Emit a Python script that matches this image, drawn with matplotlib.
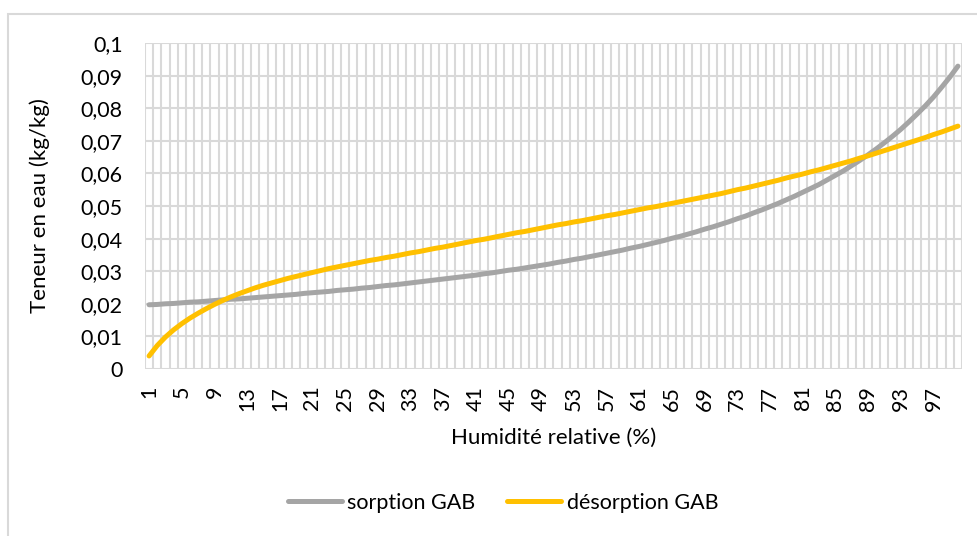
import matplotlib
matplotlib.use('Agg')
from matplotlib import pyplot as plt
from matplotlib.patches import Rectangle

# relative humidity categories, 1..100 %
humidity = list(range(1, 101))

sorption_gab = [
    0.0197, 0.0198, 0.0200, 0.0201, 0.0203, 0.0205, 0.0206, 0.0208, 0.0210, 0.0212,
    0.0214, 0.0215, 0.0217, 0.0219, 0.0221, 0.0223, 0.0225, 0.0227, 0.0229, 0.0232,
    0.0234, 0.0236, 0.0238, 0.0241, 0.0243, 0.0245, 0.0248, 0.0250, 0.0253, 0.0256,
    0.0258, 0.0261, 0.0264, 0.0267, 0.0270, 0.0273, 0.0276, 0.0279, 0.0282, 0.0285,
    0.0288, 0.0292, 0.0295, 0.0299, 0.0303, 0.0306, 0.0310, 0.0314, 0.0318, 0.0322,
    0.0327, 0.0331, 0.0336, 0.0340, 0.0345, 0.0350, 0.0355, 0.0360, 0.0365, 0.0371,
    0.0376, 0.0382, 0.0388, 0.0394, 0.0401, 0.0407, 0.0414, 0.0421, 0.0429, 0.0436,
    0.0444, 0.0452, 0.0461, 0.0469, 0.0479, 0.0488, 0.0498, 0.0508, 0.0519, 0.0530,
    0.0542, 0.0554, 0.0566, 0.0580, 0.0594, 0.0608, 0.0624, 0.0640, 0.0657, 0.0675,
    0.0694, 0.0714, 0.0735, 0.0758, 0.0782, 0.0807, 0.0834, 0.0864, 0.0895, 0.0929,
]

desorption_gab = [
    0.0040, 0.0072, 0.0098, 0.0120, 0.0139, 0.0156, 0.0171, 0.0185, 0.0198, 0.0210,
    0.0221, 0.0231, 0.0240, 0.0249, 0.0257, 0.0264, 0.0271, 0.0278, 0.0284, 0.0290,
    0.0296, 0.0302, 0.0308, 0.0313, 0.0318, 0.0323, 0.0328, 0.0333, 0.0337, 0.0342,
    0.0346, 0.0351, 0.0356, 0.0360, 0.0365, 0.0370, 0.0374, 0.0379, 0.0384, 0.0389,
    0.0394, 0.0398, 0.0403, 0.0408, 0.0413, 0.0418, 0.0422, 0.0427, 0.0432, 0.0437,
    0.0442, 0.0446, 0.0451, 0.0455, 0.0460, 0.0465, 0.0470, 0.0474, 0.0479, 0.0484,
    0.0489, 0.0494, 0.0498, 0.0503, 0.0508, 0.0513, 0.0518, 0.0523, 0.0528, 0.0533,
    0.0538, 0.0544, 0.0550, 0.0555, 0.0561, 0.0567, 0.0573, 0.0579, 0.0586, 0.0592,
    0.0598, 0.0605, 0.0611, 0.0618, 0.0625, 0.0632, 0.0639, 0.0647, 0.0654, 0.0662,
    0.0670, 0.0678, 0.0686, 0.0694, 0.0702, 0.0710, 0.0719, 0.0727, 0.0736, 0.0745,
]

y_ticks = [i / 100 for i in range(11)]
y_labels = ['0', '0,01', '0,02', '0,03', '0,04', '0,05', '0,06', '0,07', '0,08', '0,09', '0,1']
x_ticks = humidity[::4]

plt.rcParams['font.family'] = ['Lato', 'DejaVu Sans']
grid_color = '#d9d9d9'

fig = plt.figure(figsize=(9.78, 5.36), dpi=100)

# chart frame
fig.patches.append(Rectangle((8 / 978, -0.05), 1.1, 1 - 14 / 536 + 0.05,
                             transform=fig.transFigure, fill=False,
                             edgecolor=grid_color, linewidth=1.5))

ax = fig.add_axes([145 / 978, 167 / 536, 817 / 978, 326 / 536])

# gridlines: one per 0.01, and one at each category boundary
for y in y_ticks:
    ax.axhline(y, color=grid_color, linewidth=1.5, zorder=0)
for x in range(len(humidity) + 1):
    ax.axvline(x + 0.5, color=grid_color, linewidth=1.5, zorder=0)

ax.plot(humidity, sorption_gab, color='#a5a5a5', linewidth=3.6,
        solid_capstyle='round', label='sorption GAB')
ax.plot(humidity, desorption_gab, color='#ffc000', linewidth=3.6,
        solid_capstyle='round', label='désorption GAB')

ax.set_xlim(0.5, len(humidity) + 0.5)
ax.set_ylim(0, 0.1)
ax.set_yticks(y_ticks)
ax.set_yticklabels(y_labels)
ax.set_xticks(x_ticks)
ax.set_xticklabels([str(x) for x in x_ticks], rotation=90)
ax.tick_params(axis='both', length=0, labelsize=15.5, colors='black')
ax.tick_params(axis='y', pad=16)
ax.tick_params(axis='x', pad=12)
for side in ax.spines.values():
    side.set_visible(False)

ax.set_xlabel('Humidité relative (%)', fontsize=16, va='center')
ax.xaxis.set_label_coords(0.5, -69 / 326)
ax.set_ylabel('Teneur en eau (kg/kg)', fontsize=16, va='center')
ax.yaxis.set_label_coords(-105 / 817, 0.5)

fig.legend(loc='center', bbox_to_anchor=(503 / 978, 1 - 503 / 536), ncol=2,
           frameon=False, fontsize=15.5, handlelength=2.5, handletextpad=0.25,
           columnspacing=1.5)

fig.savefig('out.png', dpi=100)
